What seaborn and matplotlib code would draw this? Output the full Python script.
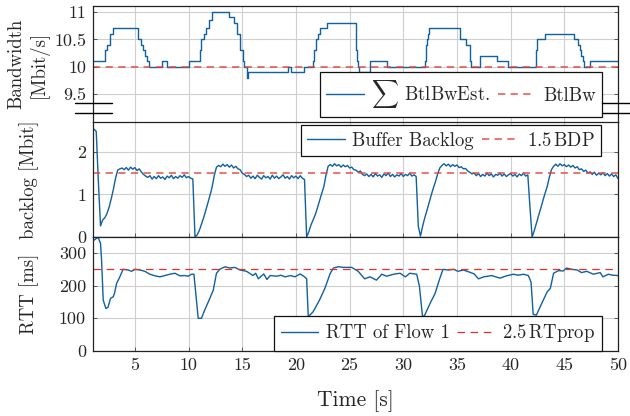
import numpy as np
import pandas as pd
import matplotlib
matplotlib.use("Agg")
import matplotlib.pyplot as plt
import seaborn as sns
from matplotlib.lines import Line2D

# ---------------- data ----------------
# Sum of BtlBw estimates (step function, Mbit/s)
bw_time = [1.0, 2.18, 2.4, 2.64, 3.0, 5.28, 5.6, 5.75, 5.96, 6.15, 6.28, 7.5, 7.98,
           10.0, 11.03, 11.2, 11.4, 11.6, 11.9, 12.2, 13.8, 14.2, 14.5, 14.75, 15.07,
           15.2, 15.44, 15.5, 19.29, 19.5, 20.78, 21.56, 21.7, 21.9, 22.08, 22.2, 22.86,
           25.57, 25.7, 25.8, 25.9, 26.9, 28.46, 32.0, 32.1, 32.2, 32.3, 32.4, 35.29,
           35.8, 36.17, 36.25, 36.3, 37.15, 38.7, 39.8, 42.35, 42.45, 43.2, 45.94, 46.25,
           46.5, 46.6, 46.7, 46.8, 47.4, 50.0]
bw_est = [10.1, 10.3, 10.4, 10.6, 10.7, 10.5, 10.4, 10.3, 10.2, 10.1, 10.0, 10.1, 10.0,
          10.1, 10.3, 10.5, 10.6, 10.7, 10.85, 11.0, 10.9, 10.8, 10.6, 10.3, 10.1,
          10.0, 9.8, 9.9, 10.0, 9.9, 10.0, 10.1, 10.3, 10.5, 10.6, 10.7, 10.8,
          10.3, 10.1, 10.0, 9.9, 10.1, 10.0, 10.1, 10.4, 10.5, 10.6, 10.7, 10.5,
          10.4, 10.2, 10.1, 10.0, 10.2, 10.1, 10.0, 10.3, 10.5, 10.6, 10.5, 10.4,
          10.3, 10.2, 10.1, 10.0, 10.1, 10.1]
btlbw = 10.0

# Buffer backlog (Mbit), sampled every 0.2 s from t = 1.0 s
backlog = [
    2.56, 2.53, 2.48, 1.30, 0.26,
    0.40, 0.45, 0.55, 0.70, 0.90,
    1.12, 1.38, 1.57, 1.60, 1.62,
    1.58, 1.63, 1.57, 1.64, 1.59,
    1.63, 1.56, 1.60, 1.53, 1.47,
    1.43, 1.40, 1.44, 1.36, 1.42,
    1.37, 1.44, 1.38, 1.41, 1.35,
    1.43, 1.39, 1.45, 1.37, 1.42,
    1.38, 1.44, 1.40, 1.46, 1.39,
    1.42, 1.38, 1.36, 0.00, 0.05,
    0.15, 0.30, 0.45, 0.62, 0.80,
    0.98, 1.18, 1.45, 1.64, 1.68,
    1.65, 1.71, 1.66, 1.70, 1.64,
    1.69, 1.62, 1.66, 1.60, 1.58,
    1.50, 1.47, 1.42, 1.45, 1.38,
    1.43, 1.37, 1.45, 1.40, 1.36,
    1.44, 1.39, 1.42, 1.36, 1.45,
    1.38, 1.43, 1.37, 1.41, 1.46,
    1.38, 1.42, 1.36, 1.44, 1.39,
    1.43, 1.37, 1.44, 1.38, 1.35,
    0.00, 0.12, 0.28, 0.40, 0.52,
    0.68, 0.85, 1.02, 1.18, 1.45,
    1.66, 1.70, 1.66, 1.72, 1.67,
    1.70, 1.64, 1.69, 1.65, 1.68,
    1.62, 1.64, 1.58, 1.57, 1.52,
    1.55, 1.47, 1.44, 1.48, 1.42,
    1.47, 1.41, 1.49, 1.43, 1.46,
    1.40, 1.48, 1.44, 1.50, 1.42,
    1.47, 1.41, 1.46, 1.43, 1.49,
    1.42, 1.47, 1.44, 1.50, 1.43,
    1.46, 1.42, 0.25, 0.02, 0.25,
    0.45, 0.62, 0.80, 0.98, 1.15,
    1.30, 1.48, 1.62, 1.68, 1.72,
    1.67, 1.71, 1.65, 1.70, 1.66,
    1.69, 1.63, 1.65, 1.60, 1.61,
    1.55, 1.52, 1.48, 1.50, 1.44,
    1.49, 1.42, 1.47, 1.43, 1.50,
    1.44, 1.48, 1.41, 1.47, 1.45,
    1.50, 1.43, 1.48, 1.42, 1.46,
    1.49, 1.43, 1.47, 1.41, 1.48,
    1.44, 1.50, 1.43, 1.46, 0.70,
    0.00, 0.15, 0.32, 0.50, 0.67,
    0.85, 1.02, 1.18, 1.40, 1.58,
    1.66, 1.71, 1.66, 1.72, 1.67,
    1.70, 1.65, 1.69, 1.64, 1.68,
    1.62, 1.65, 1.58, 1.60, 1.54,
    1.57, 1.50, 1.53, 1.47, 1.52,
    1.45, 1.50, 1.46, 1.51, 1.44,
    1.49, 1.43, 1.48, 1.42, 1.46,
    1.37,
]
backlog_time = np.round(1.0 + 0.2 * np.arange(len(backlog)), 2)
bdp_15 = 1.5

# RTT of flow 1 (ms)
rtt_time = [1.0, 1.3, 1.58, 1.8, 1.9, 2.05, 2.3, 2.5, 2.73, 2.98, 3.1, 3.3, 3.6, 3.9,
            4.38, 4.7, 5.0, 5.47, 5.93, 6.4, 6.9, 7.33, 7.8, 8.26, 8.73, 9.2, 9.6,
            9.97, 10.28, 10.5, 10.9, 11.2, 11.5, 11.9, 12.3, 12.6, 12.9, 13.4, 13.85,
            14.3, 14.8, 15.4, 16.0, 16.25, 16.5, 17.0, 17.3, 17.6, 18.2, 18.6, 19.0,
            19.5, 19.9, 20.4, 20.8, 21.0, 21.15, 21.6, 22.2, 22.7, 23.2, 23.5, 23.95,
            24.4, 25.2, 25.8, 26.4, 26.9, 27.5, 28.0, 28.45, 29.1, 29.7, 30.2, 30.6,
            31.25, 31.5, 31.8, 32.0, 32.5, 32.96, 33.4, 33.7, 34.2, 34.7, 35.1, 35.6,
            36.2, 36.6, 37.0, 37.5, 38.24, 39.0, 39.6, 40.26, 40.7, 41.2, 41.65, 41.9,
            42.1, 42.4, 42.9, 43.4, 43.7, 44.0, 44.45, 44.9, 45.2, 45.7, 46.2, 46.6,
            47.1, 47.7, 48.34, 48.6, 49.1, 49.5, 50.0]
rtt = [335, 342, 348, 329, 278, 156, 130, 134, 161, 166, 176, 207, 227, 250,
       248, 244, 250, 248, 244, 235, 230, 227, 231, 235, 238, 230, 231,
       229, 235, 235, 100, 100, 125, 155, 186, 238, 250, 258, 254,
       256, 248, 244, 231, 238, 221, 236, 219, 231, 229, 232, 227,
       231, 227, 236, 227, 221, 105, 120, 156, 192, 238, 254, 258,
       256, 256, 244, 221, 227, 217, 235, 229, 235, 238, 227, 238,
       235, 199, 103, 110, 146, 176, 222, 250, 248, 250, 244, 248,
       241, 236, 221, 227, 231, 223, 230, 235, 232, 235, 231, 211,
       112, 110, 146, 181, 192, 238, 246, 245, 254, 250, 248, 240,
       244, 235, 240, 227, 235, 232, 231]
rtprop_25 = 250

x_ticks = [5, 10, 15, 20, 25, 30, 35, 40, 45, 50]
bw_ticks = [9.5, 10, 10.5, 11]
bw_tick_labels = ["9.5", "10", "10.5", "11"]

assert len(bw_time) == len(bw_est)
assert len(rtt_time) == len(rtt)

# ---------------- style ----------------
sns.set_theme(style="whitegrid")
plt.rcParams["font.family"] = ["cmr10", "DejaVu Serif"]
plt.rcParams["mathtext.fontset"] = "cm"
plt.rcParams["axes.formatter.use_mathtext"] = True
plt.rcParams["axes.unicode_minus"] = False

BLUE = "#11609f"
RED = "#e4463a"
TICK_FS = 13
LAB_FS = 13.5
LEG_FS = 13.5

W, H = 630, 416
fig = plt.figure(figsize=(W / 100, H / 100), dpi=100)

def fx(px):
    return px / W

def fy(py):
    return 1 - py / H

left, right = 93, 618
ax1 = fig.add_axes([fx(left), fy(122), fx(right - left), (122 - 6) / H])
ax2 = fig.add_axes([fx(left), fy(237), fx(right - left), (237 - 122) / H])
ax3 = fig.add_axes([fx(left), fy(351), fx(right - left), (351 - 237) / H])

df_bw = pd.DataFrame({"t": bw_time, "bw": bw_est})
df_bl = pd.DataFrame({"t": backlog_time, "bl": backlog})
df_rtt = pd.DataFrame({"t": rtt_time, "rtt": rtt})

sns.lineplot(data=df_bw, x="t", y="bw", ax=ax1, color=BLUE, lw=1.0,
             drawstyle="steps-post", estimator=None, sort=False,
             label=r"$\sum$ BtlBwEst.")
ax1.axhline(btlbw, color=RED, lw=1.3, alpha=0.8, dashes=(4.0, 3.0), label="BtlBw")

sns.lineplot(data=df_bl, x="t", y="bl", ax=ax2, color=BLUE, lw=1.0,
             estimator=None, sort=False, label="Buffer Backlog")
ax2.axhline(bdp_15, color=RED, lw=1.3, alpha=0.8, dashes=(4.0, 3.0),
            label=r"1.5$\,$BDP")

sns.lineplot(data=df_rtt, x="t", y="rtt", ax=ax3, color=BLUE, lw=1.0,
             estimator=None, sort=False, label="RTT of Flow 1")
ax3.axhline(rtprop_25, color="#d9362a", lw=0.9, dashes=(6.0, 4.5),
            label=r"2.5$\,$RTprop")

for ax in (ax1, ax2, ax3):
    ax.set_xlim(1.1, 50)
    ax.set_xticks(x_ticks)
    ax.grid(True, color="#cfcfcf", lw=0.8)
    ax.set_axisbelow(True)
    for s in ax.spines.values():
        s.set_color("#222222")
        s.set_linewidth(0.9)
        s.set_visible(True)
    ax.tick_params(direction="in", length=3, width=0.6, color="#444444",
                   labelsize=TICK_FS, pad=5, right=True, left=True, bottom=True)
    ax.set_xlabel("")

ax1.spines["bottom"].set_visible(False)
ax1.tick_params(labelbottom=False, bottom=False)
ax2.tick_params(labelbottom=False)

ax1.set_ylim(8.99, 11.11)
ax1.set_yticks(bw_ticks)
ax1.set_yticklabels(bw_tick_labels)
ax2.set_ylim(0, 2.7)
ax2.set_yticks([0, 1, 2])
ax2.set_yticklabels(["0", "1", "2"])
ax3.set_ylim(0, 349)
ax3.set_yticks([0, 100, 200, 300])
ax3.set_yticklabels(["0", "100", "200", "300"])
ax3.set_xticklabels([str(v) for v in x_ticks])

ax1.set_ylabel("Bandwidth\n[Mbit/s]", fontsize=LAB_FS, linespacing=1.25)
ax1.yaxis.set_label_coords((49 - left) / (right - left), 0.5)
ax2.set_ylabel("backlog [Mbit]", fontsize=LAB_FS)
ax2.yaxis.set_label_coords((39 - left) / (right - left), 0.5)
ax3.set_ylabel("RTT [ms]", fontsize=LAB_FS)
ax3.yaxis.set_label_coords((39 - left) / (right - left), 0.5)
ax3.set_xlabel("Time [s]", fontsize=15.5, labelpad=12)

leg_kw = dict(ncol=2, fancybox=False, frameon=True, edgecolor="#111111",
              framealpha=1.0, fontsize=LEG_FS, handlelength=2.0, handletextpad=0.4,
              columnspacing=0.4, borderpad=0.35, borderaxespad=0.0,
              bbox_transform=fig.transFigure)
for ax, loc, anchor in ((ax1, "lower right", (fx(602), fy(117))),
                        (ax2, "upper right", (fx(601), fy(125))),
                        (ax3, "lower right", (fx(602), fy(351)))):
    leg = ax.legend(loc=loc, bbox_to_anchor=anchor, **leg_kw)
    leg.get_frame().set_linewidth(0.9)
    leg.set_zorder(10)

# axis break marks
for py in (103, 113):
    fig.add_artist(Line2D([fx(75), fx(112)], [fy(py), fy(py)], color="black", lw=1.0))
    fig.add_artist(Line2D([fx(602), fx(630)], [fy(py), fy(py)], color="black", lw=1.0))

fig.savefig("out.png", dpi=100)
